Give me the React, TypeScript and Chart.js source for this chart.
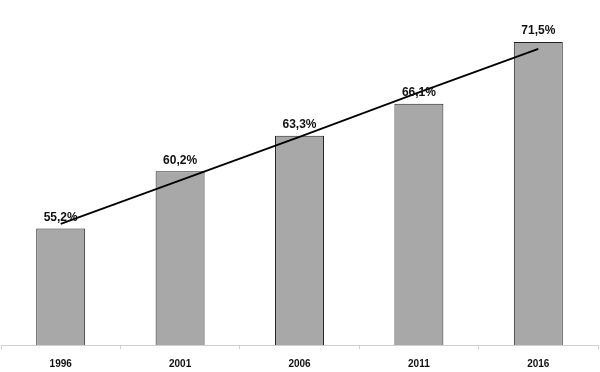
import React, { useEffect, useRef } from "react";
import { Chart, registerables } from "chart.js";

Chart.register(...registerables);

const categories = ["1996", "2001", "2006", "2011", "2016"];
const values = [55.2, 60.2, 63.3, 66.1, 71.5];
const valueLabels = ["55,2%", "60,2%", "63,3%", "66,1%", "71,5%"];
const trendValues = [55.6, 59.4, 63.2, 67.1, 70.9];

const labelPlugin = {
  id: "valueLabels",
  afterDatasetsDraw(chart: any) {
    const meta = chart.getDatasetMeta(1);
    const ctx = chart.ctx;
    ctx.save();
    ctx.font = "bold 12px 'Liberation Sans', Arial, sans-serif";
    ctx.fillStyle = "#111";
    ctx.textAlign = "center";
    ctx.textBaseline = "middle";
    meta.data.forEach((bar: any, i: number) => {
      ctx.fillText(valueLabels[i], bar.x, bar.y - 11);
    });
    ctx.restore();
  },
};

export default function App() {
  const ref = useRef<HTMLCanvasElement>(null);
  useEffect(() => {
    document.body.style.margin = "0";
    const chart = new Chart(ref.current!, {
      type: "bar",
      data: {
        labels: categories,
        datasets: [
          {
            type: "line",
            data: trendValues,
            borderColor: "#000",
            borderWidth: 1.8,
            pointRadius: 0,
            fill: false,
            order: 0,
          } as any,
          {
            type: "bar",
            data: values,
            backgroundColor: "#a8a8a8",
            borderColor: "#222",
            borderWidth: 1,
            barPercentage: 0.41,
            categoryPercentage: 1,
            order: 1,
          },
        ],
      },
      options: {
        animation: false,
        responsive: false,
        layout: { padding: { top: 2, left: 1, right: 2, bottom: -7 } },
        plugins: { legend: { display: false }, tooltip: { enabled: false } },
        scales: {
          y: { display: false, min: 45, max: 75 },
          x: {
            border: { display: true, color: "#d0d0d0", width: 1 },
            grid: {
              display: true,
              drawOnChartArea: false,
              drawTicks: true,
              tickLength: 4,
              color: "#d0d0d0",
              offset: true,
            },
            ticks: {
              color: "#111",
              padding: 9,
              font: { family: "'Liberation Sans', Arial, sans-serif", size: 10, weight: "bold" },
            },
          },
        },
      },
      plugins: [labelPlugin],
    });
    return () => chart.destroy();
  }, []);
  return (
    <div style={{ width: 600, height: 372 }}>
      <canvas ref={ref} width={600} height={372} />
    </div>
  );
}
